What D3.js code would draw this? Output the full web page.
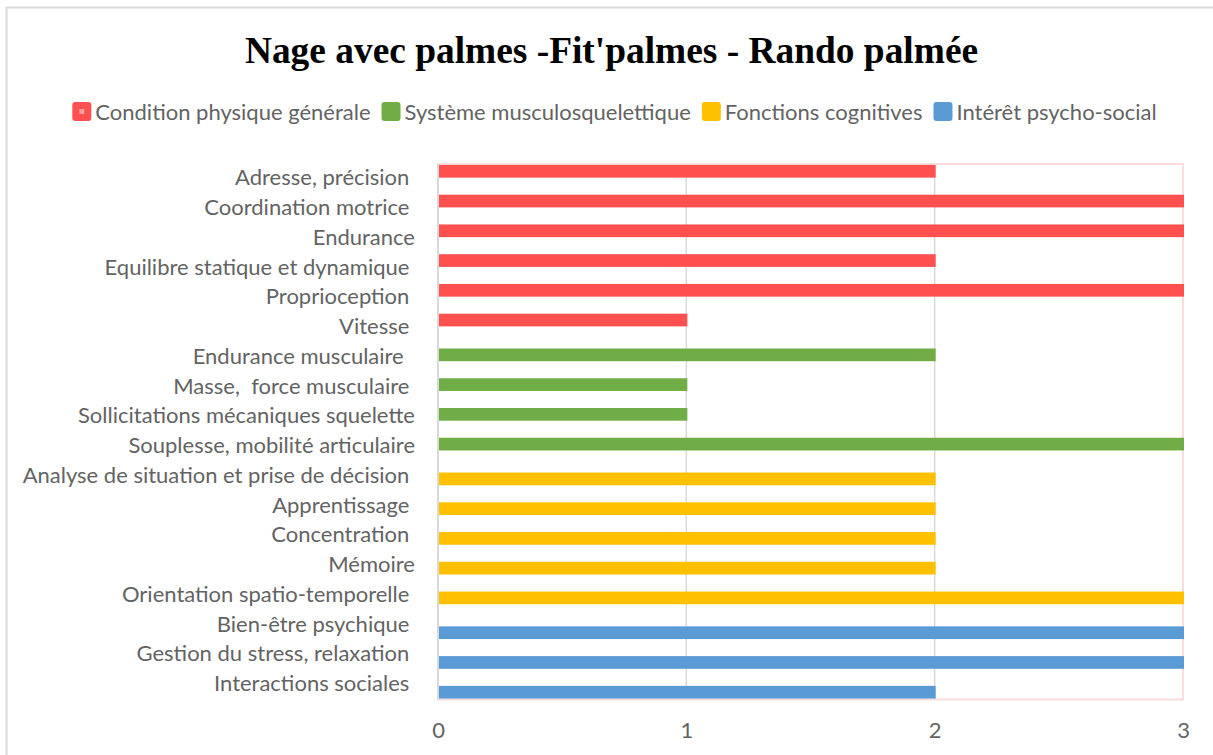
<!DOCTYPE html>
<html>
<head>
<meta charset="utf-8">
<script src="https://cdn.jsdelivr.net/npm/d3@7"></script>
<style>
  body { margin: 0; background: #fff; }
  svg text { white-space: pre; }
</style>
</head>
<body>
<svg id="chart" width="1213" height="755"></svg>
<script>
// chart data
const categories = [
    "Adresse, précision ", "Coordination motrice ", "Endurance", "Equilibre statique et dynamique ",
    "Proprioception ", "Vitesse ", "Endurance musculaire  ", "Masse,  force musculaire ",
    "Sollicitations mécaniques squelette", "Souplesse, mobilité articulaire", "Analyse de situation et prise de décision ",
    "Apprentissage ", "Concentration ", "Mémoire", "Orientation spatio-temporelle ",
    "Bien-être psychique ", "Gestion du stress, relaxation ", "Interactions sociales "
];
const values = [2, 3, 3, 2, 3, 1, 2, 1, 1, 3, 2, 2, 2, 2, 3, 3, 3, 2];
const groups = [0, 0, 0, 0, 0, 0, 1, 1, 1, 1, 2, 2, 2, 2, 2, 3, 3, 3];
const seriesNames = ["Condition physique générale", "Système musculosquelettique", "Fonctions cognitives", "Intérêt psycho-social"];
const seriesColors = ["#ff5050", "#70ad47", "#ffc000", "#5b9bd5"];
const xTicks = [0, 1, 2, 3];
const title = "Nage avec palmes -Fit'palmes - Rando palmée";

const svg = d3.select("#chart");
const font = "Lato, 'Open Sans', sans-serif";
const textGray = "#636363";

// outer chart border
svg.append("rect")
    .attr("x", 6.5).attr("y", 7.5)
    .attr("width", 1230).attr("height", 780)
    .attr("fill", "#fff")
    .attr("stroke", "#d9d9d9")
    .attr("stroke-width", 2);

const plot = { left: 438, right: 1183, top: 164, bottom: 699.5 };

const x = d3.scaleLinear().domain([0, 3]).range([plot.left, plot.right]);
const y = d3.scaleBand().domain(categories).range([plot.top, plot.bottom]);
const inner = d3.scaleBand().domain(seriesNames).range([-10.1, 10.1]);
const barH = 12.7;

// title
svg.append("text")
    .attr("x", 611.5).attr("y", 63)
    .attr("text-anchor", "middle")
    .style("font-family", "'Liberation Serif', 'Times New Roman', serif")
    .style("font-weight", "bold")
    .style("font-size", "37.4px")
    .text(title);

// legend
const legend = svg.append("g");
let lx = 0;
seriesNames.forEach((name, i) => {
    const item = legend.append("g").attr("transform", `translate(${lx},0)`);
    item.append("rect")
        .attr("x", 0).attr("y", 102)
        .attr("width", 19).attr("height", 19)
        .attr("rx", 3)
        .attr("fill", seriesColors[i]);
    if (i === 0) {
        item.append("rect")
            .attr("x", 7).attr("y", 109)
            .attr("width", 5).attr("height", 5)
            .attr("fill", "#ffa0a0");
    }
    const t = item.append("text")
        .attr("x", 23).attr("y", 119.5)
        .style("font-family", font)
        .style("font-size", "22px")
        .attr("fill", textGray)
        .text(name);
    lx += 23 + t.node().getComputedTextLength() + 11;
});
const legendW = lx - 11;
legend.attr("transform", `translate(${614.5 - legendW / 2},0)`);

// gridlines
svg.append("g")
    .selectAll("line")
    .data(xTicks.slice(1))
    .join("line")
    .attr("x1", d => x(d)).attr("x2", d => x(d))
    .attr("y1", plot.top).attr("y2", plot.bottom)
    .attr("stroke", "#d9d9d9")
    .attr("stroke-width", 1.5);

// plot border (pink)
svg.append("rect")
    .attr("x", plot.left).attr("y", plot.top)
    .attr("width", plot.right - plot.left).attr("height", plot.bottom - plot.top)
    .attr("fill", "none")
    .attr("stroke", "#fbdcdc")
    .attr("stroke-width", 2);

// bars
svg.append("g")
    .selectAll("rect")
    .data(categories)
    .join("rect")
    .attr("x", x(0))
    .attr("y", (d, i) => y(d) + y.bandwidth() / 2 + inner(seriesNames[groups[i]]) + inner.bandwidth() / 2 - barH / 2)
    .attr("width", (d, i) => x(values[i]) - x(0) + 1)
    .attr("height", barH)
    .attr("fill", (d, i) => seriesColors[groups[i]]);

// vertical axis line
svg.append("line")
    .attr("x1", x(0)).attr("x2", x(0))
    .attr("y1", plot.top).attr("y2", plot.bottom)
    .attr("stroke", "#d9d9d9")
    .attr("stroke-width", 2);

// category axis
const yAxis = svg.append("g")
    .attr("transform", `translate(${plot.left - 23},0)`)
    .call(d3.axisLeft(y).tickSize(0).tickPadding(0));
yAxis.select(".domain").remove();
yAxis.selectAll("text")
    .attr("dy", "0.3em")
    .style("font-family", font)
    .style("font-size", "22px")
    .attr("fill", textGray);

// value axis
const xAxis = svg.append("g")
    .attr("transform", `translate(0,${plot.bottom})`)
    .call(d3.axisBottom(x).tickValues(xTicks).tickFormat(d3.format("d")).tickSize(0).tickPadding(0));
xAxis.select(".domain").remove();
xAxis.selectAll("text")
    .attr("y", 38)
    .attr("dy", 0)
    .style("font-family", font)
    .style("font-size", "22px")
    .attr("fill", textGray);
</script>
</body>
</html>
